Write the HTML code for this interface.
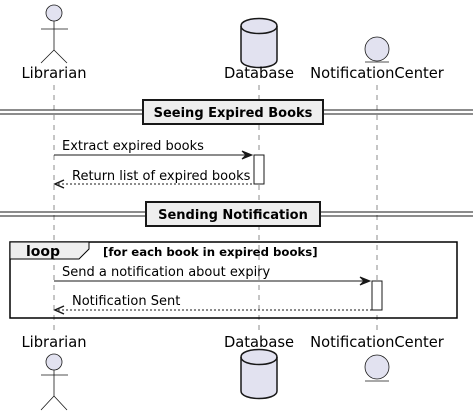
<!DOCTYPE html><html><head><style>body{margin:0;background:#fff}svg{display:block}</style></head><body>
<svg width="473" height="415" xmlns="http://www.w3.org/2000/svg" font-family="'DejaVu Sans','Liberation Sans',sans-serif">
<g stroke="#181818" stroke-width="0.5" stroke-dasharray="5,5">
<line x1="54" y1="85" x2="54" y2="332"/><line x1="259" y1="85" x2="259" y2="332"/><line x1="377" y1="85" x2="377" y2="332"/></g>
<g fill="#E2E2F0" stroke="#181818">
<circle cx="54" cy="13" r="8" stroke-width="0.8"/>
<path d="M54 21V50M41 29H68M54 50L41 63M54 50L67 63" fill="none" stroke-width="0.8"/>
<path d="M241 26C241 16 277 16 277 26V60C277 70 241 70 241 60Z" stroke-width="1.5"/>
<path d="M241 26C241 36 277 36 277 26" fill="none" stroke-width="1.5"/>
<circle cx="377" cy="49" r="12" stroke-width="0.8"/>
<line x1="365" y1="62" x2="389" y2="62" stroke-width="0.8"/>
<circle cx="54" cy="362" r="8" stroke-width="0.8"/>
<path d="M54 370V396M41 375H68M54 396L41 410M54 396L67 410" fill="none" stroke-width="0.8"/>
<path d="M241 357C241 347 277 347 277 357V391C277 401 241 401 241 391Z" stroke-width="1.5"/>
<path d="M241 357C241 367 277 367 277 357" fill="none" stroke-width="1.5"/>
<circle cx="377" cy="367" r="12" stroke-width="0.8"/>
<line x1="365" y1="381" x2="389" y2="381" stroke-width="0.8"/>
</g>
<g font-size="14.7" fill="#000" text-anchor="middle">
<text x="54" y="78">Librarian</text><text x="259" y="78">Database</text><text x="377" y="78">NotificationCenter</text>
<text x="54" y="347">Librarian</text><text x="259" y="347">Database</text><text x="377" y="347">NotificationCenter</text>
</g>
<g stroke="#181818" stroke-width="1">
<line x1="0" y1="110" x2="473" y2="110"/><line x1="0" y1="114" x2="473" y2="114"/>
<line x1="0" y1="212" x2="473" y2="212"/><line x1="0" y1="216" x2="473" y2="216"/></g>
<rect x="143" y="100" width="180" height="24" fill="#EEEEEE" stroke="#181818" stroke-width="2"/>
<rect x="146" y="202" width="174" height="24" fill="#EEEEEE" stroke="#181818" stroke-width="2"/>
<g font-size="13" font-weight="bold" text-anchor="middle"><text x="233" y="117">Seeing Expired Books</text><text x="233" y="219">Sending Notification</text></g>
<g font-size="13" fill="#000">
<text x="62" y="150">Extract expired books</text>
<text x="72" y="180">Return list of expired books</text>
<text x="62" y="276">Send a notification about expiry</text>
<text x="72" y="305">Notification Sent</text></g>
<g stroke="#181818" fill="none">
<line x1="54" y1="155" x2="252" y2="155"/><path d="M242 151L252 155L242 159L246 155Z" fill="#181818"/>
<line x1="58" y1="184" x2="254" y2="184" stroke-dasharray="2,2"/><path d="M64 180L55 184L64 188" stroke-width="1.5"/>
<line x1="54" y1="281" x2="370" y2="281"/><path d="M360 277L370 281L360 285L364 281Z" fill="#181818"/>
<line x1="58" y1="310" x2="372" y2="310" stroke-dasharray="2,2"/><path d="M64 306L55 310L64 314" stroke-width="1.5"/>
</g>
<rect x="254" y="155" width="10" height="29" fill="#fff" stroke="#181818"/>
<rect x="372" y="281" width="10" height="29" fill="#fff" stroke="#181818"/>
<rect x="10" y="242" width="447" height="76" fill="none" stroke="#000" stroke-width="1.5"/>
<path d="M10 242H89V249L79 259H10Z" fill="#EEEEEE" stroke="#000" stroke-width="1"/>
<text x="26" y="256" font-size="14" font-weight="bold">loop</text>
<text x="103" y="256" font-size="11.7" font-weight="bold">[for each book in expired books]</text>
</svg></body></html>
